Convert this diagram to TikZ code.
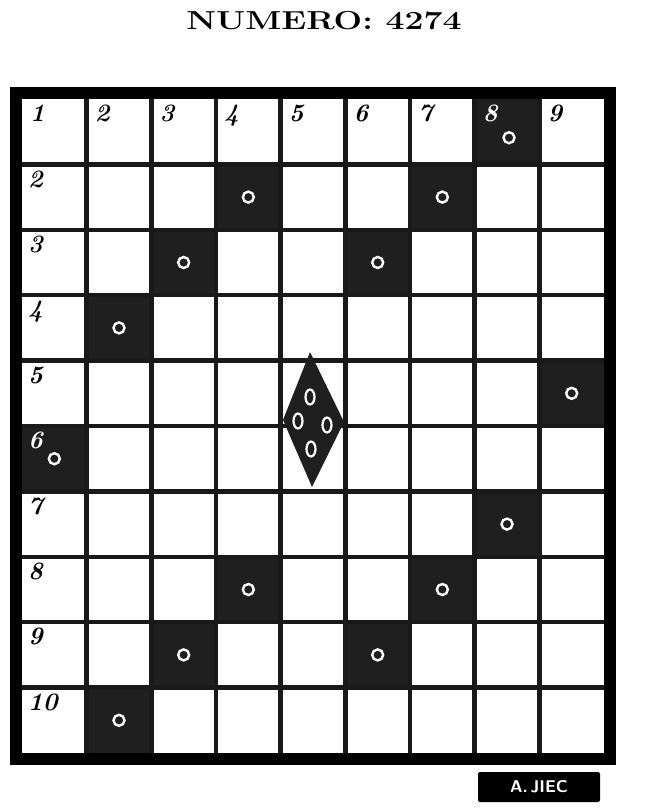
\documentclass[tikz,border=0pt]{standalone}
\usetikzlibrary{shapes.geometric}
\begin{document}
\begin{tikzpicture}[x=1pt,y=-1pt,
  blackcell/.style={fill=black!88},
  gridline/.style={line width=4.5pt,black!90},
  frame/.style={line width=12pt,black},
  ring/.style={draw=white,line width=2.4pt,circle,inner sep=0pt,minimum size=11pt},
  dring/.style={draw=white,line width=2.2pt,ellipse,inner sep=0pt,minimum width=9pt,minimum height=15pt},
  numlabel/.style={font=\fontsize{25}{25}\selectfont\itshape\bfseries,anchor=north west,inner sep=0pt},
  title/.style={font=\fontsize{26}{26}\selectfont\bfseries,xscale=1.3},
  sign/.style={fill=black,text=white,font=\fontsize{17}{17}\selectfont\bfseries\sffamily,minimum width=122pt,minimum height=30pt,inner sep=1pt,rounded corners=2pt}]
\useasboundingbox (0,0) rectangle (651,811);
\fill[white] (0,0) rectangle (651,811);
\def\cw{64.67}
\def\ch{65.4}
% title
\node[title] (titletext) at (324,21) {NUMERO:\ 4274};
% black cells with rings
\foreach \c/\r in {8/1,4/2,7/2,3/3,6/3,2/4,9/5,1/6,8/7,4/8,7/8,3/9,6/9,2/10}{
  \fill[blackcell] ({22+(\c-1)*\cw},{99+(\r-1)*\ch}) rectangle ++(\cw,\ch);
}
\foreach \c/\r in {4/2,7/2,3/3,6/3,2/4,9/5,1/6,8/7,4/8,7/8,3/9,6/9,2/10}{
  \node[ring] (ring-\c-\r) at ({22+(\c-0.5)*\cw},{99+(\r-0.5)*\ch}) {};
}
\node[ring] (ring-8-1) at ({22+7.5*\cw+2},{99+0.5*\ch+6}) {};
% grid lines
\foreach \i in {1,...,8}{
  \draw[gridline] ({22+\i*\cw},99) -- ({22+\i*\cw},753);
}
\foreach \j in {1,...,9}{
  \draw[gridline] (22,{99+\j*\ch}) -- (604,{99+\j*\ch});
}
% diamond
\fill[black!88] (310,352) -- (344,422) -- (312,487) -- (283,420) -- cycle;
\node[dring] (dring-a) at (310,397) {};
\node[dring] (dring-b) at (298,421) {};
\node[dring] (dring-c) at (327,425) {};
\node[dring] (dring-d) at (311,449) {};
% frame
\draw[frame] (16,93) rectangle (610,759);
% column numbers
\foreach \c in {1,2,3,4,5,6,7,9}{
  \node[numlabel] (col-\c) at ({22+(\c-1)*\cw+8},{99+6}) {\c};
}
\node[numlabel,text=white] (col-8) at ({22+7*\cw+8},{99+6}) {8};
% row numbers
\foreach \r in {2,3,4,5,7,8,9,10}{
  \node[numlabel] (row-\r) at (28,{99+(\r-1)*\ch+6}) {\r};
}
\node[numlabel,text=white] (row-6) at (28,{99+5*\ch+6}) {6};
% signature
\node[sign] (signature) at (539,787) {A.\,JIEC};
\end{tikzpicture}
\end{document}
